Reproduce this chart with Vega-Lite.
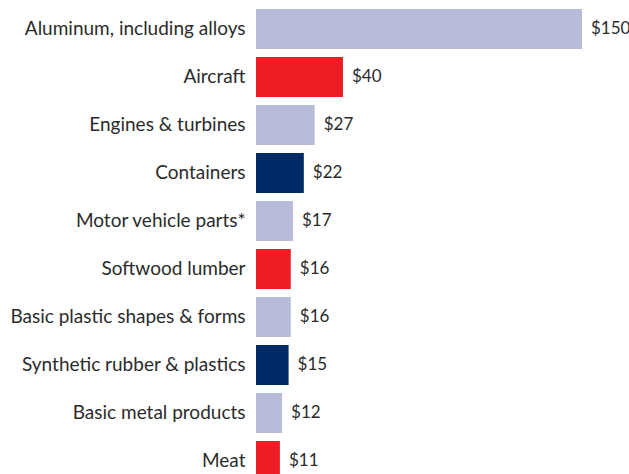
{
  "$schema": "https://vega.github.io/schema/vega-lite/v6.json",
  "autosize": {"type": "none"},
  "width": 326,
  "height": 480,
  "padding": {"left": 256, "top": 5, "right": 47, "bottom": 0},
  "background": "white",
  "config": {"view": {"stroke": null}, "font": "Lato"},
  "data": {"values": [
    {"item": "Aluminum, including alloys", "value": 150, "group": "a"},
    {"item": "Aircraft", "value": 40, "group": "b"},
    {"item": "Engines & turbines", "value": 27, "group": "a"},
    {"item": "Containers", "value": 22, "group": "c"},
    {"item": "Motor vehicle parts*", "value": 17, "group": "a"},
    {"item": "Softwood lumber", "value": 16, "group": "b"},
    {"item": "Basic plastic shapes & forms", "value": 16, "group": "a"},
    {"item": "Synthetic rubber & plastics", "value": 15, "group": "c"},
    {"item": "Basic metal products", "value": 12, "group": "a"},
    {"item": "Meat", "value": 11, "group": "b"}
  ]},
  "encoding": {
    "y": {"field": "item", "type": "nominal", "sort": null,
      "scale": {"paddingInner": 0.1667, "paddingOuter": 0.0833},
      "axis": {"title": null, "domain": false, "ticks": false, "labelPadding": 11,
        "labelFontSize": 19, "labelColor": "#2b2b2b", "labelFont": "Lato", "labelLimit": 300}},
    "x": {"field": "value", "type": "quantitative", "scale": {"domain": [0, 150], "nice": false}, "axis": null}
  },
  "layer": [
    {"mark": {"type": "bar"},
     "encoding": {"color": {"field": "group", "type": "nominal", "legend": null,
       "scale": {"domain": ["a", "b", "c"], "range": ["#b8bcd9", "#ee1c25", "#002b66"]}}}},
    {"mark": {"type": "text", "align": "left", "baseline": "middle", "dx": 9, "fontSize": 17, "color": "#2b2b2b", "font": "Lato"},
     "encoding": {"text": {"field": "value", "type": "quantitative", "format": "$d"}}}
  ]
}
